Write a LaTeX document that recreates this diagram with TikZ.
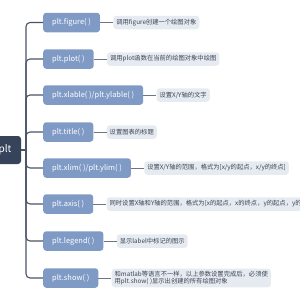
\documentclass[tikz,border=0pt]{standalone}
\usepackage{fontspec}
\setmainfont{Noto Sans CJK SC}
\usetikzlibrary{positioning}
\definecolor{rootc}{HTML}{36435A}
\definecolor{func}{HTML}{7F9BC5}
\definecolor{note}{HTML}{E6EBF2}
\definecolor{wire}{HTML}{4A5366}
\definecolor{ink}{HTML}{3C4452}

\begin{document}
\begin{tikzpicture}[x=1pt,y=-1pt,node distance=13pt,
  rootbox/.style={fill=rootc,text=white,rounded corners=3pt,minimum width=32pt,minimum height=28pt,font=\fontsize{10}{12}\selectfont},
  funcbox/.style={fill=func,text=white,rounded corners=3pt,anchor=west,minimum height=19.5pt,inner xsep=9pt,font=\fontsize{7.5}{9}\selectfont},
  notebox/.style={fill=note,text=ink,rounded corners=3pt,minimum height=13.5pt,inner xsep=3pt,inner ysep=2pt,align=left,font=\fontsize{6.3}{7.8}\selectfont},
  link/.style={wire,line width=1.1pt,rounded corners=4pt},
  tie/.style={wire!80,line width=0.7pt}]
  \useasboundingbox (0,0) rectangle (300,300);
  \clip (0,0) rectangle (300,300);
  % root and bus
  \node[rootbox] (root) at (5,150) {plt};
  \coordinate (bus) at (26,150);
  % functions
  \node[funcbox] (fig)    at (43,22.5) {plt.figure( )};
  \node[funcbox] (plot)   at (43,59)   {plt.plot( )};
  \node[funcbox] (xylab)  at (43,95)   {plt.xlable( )/plt.ylable( )};
  \node[funcbox] (title)  at (43,132)  {plt.title( )};
  \node[funcbox] (xylim)  at (43,168)  {plt.xlim( )/plt.ylim( )};
  \node[funcbox] (axis)   at (43,204)  {plt.axis( )};
  \node[funcbox] (legend) at (43,241)  {plt.legend( )};
  \node[funcbox] (show)   at (43,278)  {plt.show( )};
  % notes
  \node[notebox,right=of fig]    (fig-d)    {调用figure创建一个绘图对象};
  \node[notebox,right=of plot]   (plot-d)   {调用plot函数在当前的绘图对象中绘图};
  \node[notebox,right=of xylab]  (xylab-d)  {设置X/Y轴的文字};
  \node[notebox,right=of title]  (title-d)  {设置图表的标题};
  \node[notebox,right=of xylim]  (xylim-d)  {设置X/Y轴的范围，格式为[x/y的起点，x/y的终点]};
  \node[notebox,right=of axis]   (axis-d)   {同时设置X轴和Y轴的范围，格式为[x的起点，x的终点，y的起点，y的终点]};
  \node[notebox,right=of legend] (legend-d) {显示label中标记的图示};
  \node[notebox,right=of show]   (show-d)   {和matlab等语言不一样，以上参数设置完成后，必须使\\用plt.show( )显示出创建的所有绘图对象};
  % connectors
  \draw[link] (root.east) -- (bus);
  \foreach \n in {fig,plot,xylab,title,xylim,axis,legend,show} {
    \draw[link] (bus) |- (\n.west);
    \draw[tie] (\n.east) -- (\n-d.west);
  }
\end{tikzpicture}
\end{document}
